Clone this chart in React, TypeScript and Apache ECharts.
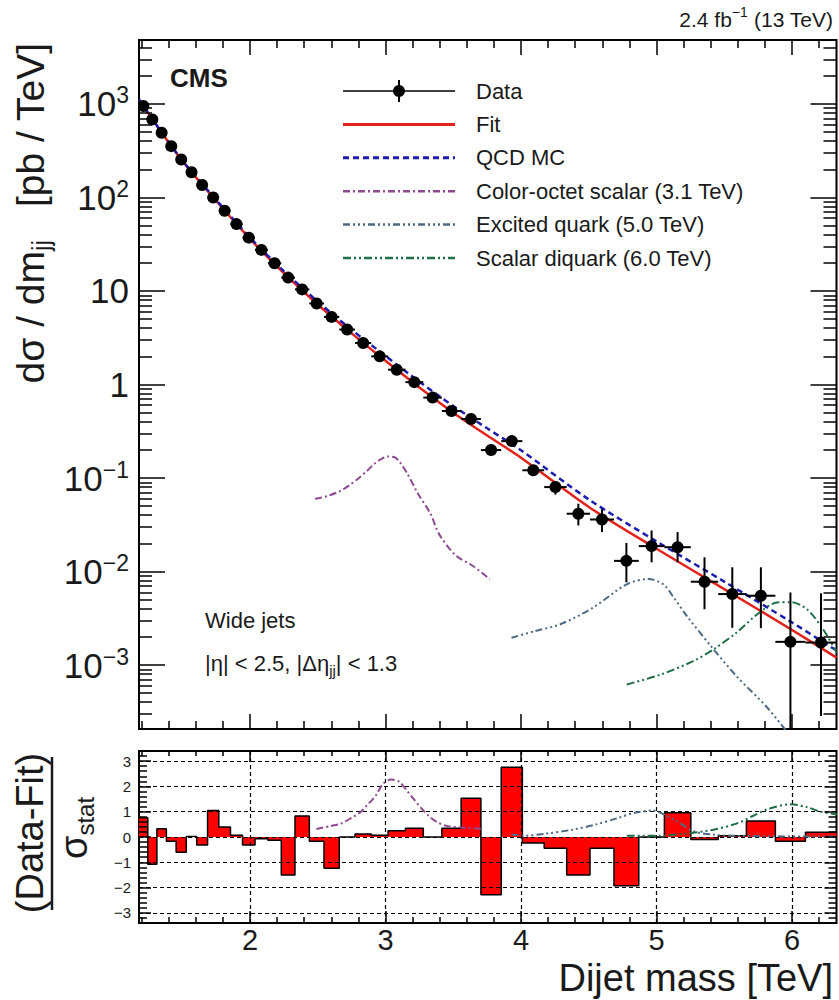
import React, { useEffect, useRef } from 'react';
import * as echarts from 'echarts';

// ---------- data ----------
// dijet mass bin edges [TeV]
const binEdges = [1.181, 1.246, 1.313, 1.383, 1.455, 1.530, 1.607, 1.687, 1.770, 1.856, 1.945, 2.037, 2.132, 2.231, 2.332, 2.438, 2.546, 2.659, 2.775, 2.895, 3.019, 3.147, 3.279, 3.416, 3.558, 3.704, 3.854, 4.010, 4.171, 4.337, 4.509, 4.686, 4.869, 5.058, 5.253, 5.455, 5.663, 5.877, 6.099, 6.328];

// measured dσ/dm_jj per bin [pb/TeV]
const crossSection = [951, 684, 493, 354, 255, 186, 136, 100, 72, 51.9, 37.2, 27.5, 19.8, 13.9, 10.4, 7.36, 5.28, 3.87, 2.78, 2.0, 1.44, 1.06, 0.724, 0.521, 0.428, 0.199, 0.248, 0.121, 0.080, 0.0415, 0.036, 0.013, 0.0187, 0.0182, 0.00778, 0.00574, 0.00551, 0.00177, 0.00174];

// statistical error band per bin (null where it is smaller than the marker)
const errLow = [null, null, null, null, null, null, null, null, null, null, null, null, null, null, null, null, null, null, null, null, null, null, null, null, null, 0.188, 0.235, 0.111, 0.0665, 0.0311, 0.0264, 0.00766, 0.01255, 0.01255, 0.00395, 0.0025, 0.00248, 0.00021, 0.000285];
const errHigh = [null, null, null, null, null, null, null, null, null, null, null, null, null, null, null, null, null, null, null, null, null, null, null, null, null, 0.211, 0.262, 0.131, 0.091, 0.0531, 0.0466, 0.0202, 0.0275, 0.0264, 0.0142, 0.0111, 0.0111, 0.00597, 0.00586];

// (Data-Fit)/sigma per bin
const pull = [0.76, -1.08, 0.33, -0.17, -0.6, 0.02, -0.32, 1.05, 0.4, 0.07, -0.32, -0.07, -0.13, -1.5, 0.83, -0.17, -1.24, 0.0, 0.12, 0.07, 0.25, 0.35, 0.0, 0.35, 1.53, -2.28, 2.76, -0.24, -0.44, -1.5, -0.44, -1.93, 0.0, 0.96, -0.1, 0.05, 0.63, -0.17, 0.19];

// fit function and QCD MC prediction
const fitMass = [1.181, 1.3, 1.5, 1.75, 2.0, 2.25, 2.5, 2.75, 3.0, 3.25, 3.5, 3.75, 4.0, 4.5, 5.0, 5.5, 6.0, 6.328];
const fitValue = [1120, 621, 247, 92.3, 36.1, 15.5, 7.16, 3.52, 1.79, 0.93, 0.50, 0.285, 0.165, 0.049, 0.0175, 0.00648, 0.00237, 0.0012];
const qcdValue = [1120, 625, 250, 94.5, 37.3, 16.3, 7.7, 3.85, 2.02, 1.07, 0.59, 0.34, 0.198, 0.059, 0.021, 0.0078, 0.00285, 0.00143];

// signal shapes, cross section panel
const octetMass = [2.48, 2.57, 2.66, 2.73, 2.80, 2.86, 2.92, 2.97, 3.02, 3.07, 3.11, 3.16, 3.24, 3.33, 3.40, 3.52, 3.64, 3.77];
const octetValue = [0.060, 0.064, 0.072, 0.083, 0.099, 0.118, 0.143, 0.160, 0.170, 0.166, 0.145, 0.112, 0.068, 0.042, 0.0245, 0.0148, 0.0116, 0.0083];
const qstarMass = [3.93, 4.10, 4.29, 4.53, 4.78, 4.94, 5.05, 5.13, 5.22, 5.40, 5.59, 5.81, 5.96];
const qstarValue = [0.00196, 0.0023, 0.00273, 0.0041, 0.0073, 0.0083, 0.0073, 0.0052, 0.0034, 0.0016, 0.00076, 0.00036, 0.000195];
const diquarkMass = [4.78, 5.03, 5.27, 5.42, 5.59, 5.76, 5.89, 5.99, 6.11, 6.23, 6.33];
const diquarkValue = [0.00062, 0.00079, 0.0011, 0.00147, 0.00222, 0.00365, 0.00467, 0.0047, 0.00395, 0.0024, 0.00135];

// signal shapes, pull panel
const octetPullMass = [2.49, 2.59, 2.67, 2.75, 2.81, 2.87, 2.93, 2.98, 3.04, 3.10, 3.15, 3.21, 3.26, 3.32, 3.38, 3.46, 3.60, 3.72];
const octetPull = [0.32, 0.43, 0.53, 0.76, 0.96, 1.29, 1.65, 2.09, 2.27, 2.19, 1.89, 1.49, 1.16, 0.83, 0.59, 0.43, 0.36, 0.32];
const qstarPullMass = [3.93, 4.02, 4.18, 4.38, 4.55, 4.72, 4.84, 4.97, 5.07, 5.17, 5.27, 5.42, 5.57, 5.80, 6.10, 6.33];
const qstarPull = [0.1, 0.05, 0.13, 0.29, 0.49, 0.76, 0.96, 1.05, 0.85, 0.56, 0.23, 0.09, 0.05, 0.03, 0.02, 0.02];
const diquarkPullMass = [4.78, 5.02, 5.21, 5.42, 5.59, 5.71, 5.83, 5.99, 6.11, 6.21, 6.33];
const diquarkPull = [0.05, 0.05, 0.13, 0.29, 0.53, 0.83, 1.12, 1.29, 1.18, 1.0, 0.9];

// axis ticks
const xMajorTicks = [2, 3, 4, 5, 6];
const decadeTicks = [-3, -2, -1, 0, 1, 2, 3];
const pullTicks = [-3, -2, -1, 0, 1, 2, 3];

// ---------- style ----------
const FONT = '"Liberation Sans", Arial, Helvetica, sans-serif';
const INK = '#1a1a1a';
const C_FIT = '#e3221c';
const C_QCD = '#1c1cb0';
const C_OCTET = '#8d4a90';
const C_QSTAR = '#4f6a84';
const C_DIQUARK = '#1f6e45';

const X_MIN = 1.181;
const X_MAX = 6.328;
const Y_MIN = Math.log10(2.07e-4);
const Y_MAX = Math.log10(4830);
const P_MIN = -3.4;
const P_MAX = 3.4;

const lg = (v: number) => Math.log10(v);

function buildOption() {
  const xMinorTicks: number[] = [];
  for (let i = 6; i <= 31; i++) if (i % 5 !== 0) xMinorTicks.push(i / 5);
  const yMinorTicks: number[] = [];
  for (let k = -4; k <= 3; k++) for (let m = 2; m <= 9; m++) {
    const v = Math.log10(m) + k;
    if (v > Y_MIN && v < Y_MAX) yMinorTicks.push(v);
  }
  const pullMinorTicks: number[] = [];
  for (let i = -17; i <= 17; i++) if (i % 5 !== 0) pullMinorTicks.push(i / 5);

  const tickLine = { color: '#000', width: 1.5 };
  const frameAxis = (gridIndex: number, position: string, min: number, max: number, ticks: number[], length: number, axisLabel?: any) => ({
    type: 'value', gridIndex, position, min, max,
    axisLine: { show: false, onZero: false },
    axisTick: { show: true, inside: true, length, customValues: ticks, lineStyle: tickLine },
    axisLabel: axisLabel || { show: false },
    splitLine: { show: false },
    z: 6,
  });

  const decadeLabel = (v: number) => {
    const k = Math.round(v);
    if (k === 0) return '1';
    if (k === 1) return '10';
    return '10{sup|' + (k < 0 ? '\u2212' + (-k) : String(k)) + '}';
  };

  const xAxis = [
    frameAxis(0, 'bottom', X_MIN, X_MAX, xMajorTicks, 15),
    frameAxis(0, 'bottom', X_MIN, X_MAX, xMinorTicks, 8),
    frameAxis(0, 'top', X_MIN, X_MAX, xMajorTicks, 15),
    frameAxis(0, 'top', X_MIN, X_MAX, xMinorTicks, 8),
    frameAxis(1, 'bottom', X_MIN, X_MAX, xMajorTicks, 12, {
      show: true, customValues: xMajorTicks, fontSize: 29, fontFamily: FONT, color: INK, margin: 2,
      formatter: (v: number) => String(v),
    }),
    frameAxis(1, 'bottom', X_MIN, X_MAX, xMinorTicks, 6),
    frameAxis(1, 'top', X_MIN, X_MAX, xMajorTicks, 11),
    frameAxis(1, 'top', X_MIN, X_MAX, xMinorTicks, 5),
  ];

  const yAxis = [
    frameAxis(0, 'left', Y_MIN, Y_MAX, decadeTicks, 26, {
      show: true, customValues: decadeTicks, fontSize: 35, fontFamily: FONT, color: INK, margin: 10, lineHeight: 40,
      formatter: decadeLabel,
      rich: { sup: { fontSize: 23, lineHeight: 23, verticalAlign: 'top', fontFamily: FONT, color: INK } },
    }),
    frameAxis(0, 'left', Y_MIN, Y_MAX, yMinorTicks, 13),
    frameAxis(0, 'right', Y_MIN, Y_MAX, decadeTicks, 26),
    frameAxis(0, 'right', Y_MIN, Y_MAX, yMinorTicks, 13),
    frameAxis(1, 'left', P_MIN, P_MAX, pullTicks, 12, {
      show: true, customValues: pullTicks, fontSize: 15, fontFamily: FONT, color: INK, margin: 8,
      formatter: (v: number) => (v < 0 ? '\u2212' + (-v) : String(v)),
    }),
    frameAxis(1, 'left', P_MIN, P_MAX, pullMinorTicks, 8),
    frameAxis(1, 'right', P_MIN, P_MAX, pullTicks, 12),
    frameAxis(1, 'right', P_MIN, P_MAX, pullMinorTicks, 8),
  ];

  const pair = (xs: number[], ys: number[], f = (v: number) => v) => xs.map((x, i) => [x, f(ys[i])]);

  const points = crossSection.map((v, i) => [
    (binEdges[i] + binEdges[i + 1]) / 2,
    lg(v),
    lg(errLow[i] ?? v),
    lg(errHigh[i] ?? v),
    binEdges[i],
    binEdges[i + 1],
  ]);

  const pullSteps = pull.map((v, i) => [binEdges[i], v]);
  pullSteps.push([binEdges[pull.length], pull[pull.length - 1]]);

  const curve = (name: string, data: number[][], color: string, dash: any, width: number, xi: number, z: number) => ({
    name, type: 'line', xAxisIndex: xi, yAxisIndex: xi, data, smooth: 0.3, symbol: 'none', z,
    lineStyle: { color, width, type: dash },
    silent: true,
  });

  const DASH_QCD = [6, 4];
  const DASH_OCTET = [7, 3, 2, 3];
  const DASH_QSTAR = [7, 3, 2, 3, 2, 3, 2, 3];
  const DASH_DIQUARK = [8, 3, 2, 3, 2, 3];

  const series: any[] = [
    curve('Fit', pair(fitMass, fitValue, lg), C_FIT, 'solid', 2.5, 0, 3),
    curve('QCD MC', pair(fitMass, qcdValue, lg), C_QCD, DASH_QCD, 2.5, 0, 4),
    curve('Color-octet scalar (3.1 TeV)', pair(octetMass, octetValue, lg), C_OCTET, DASH_OCTET, 2, 0, 4),
    curve('Excited quark (5.0 TeV)', pair(qstarMass, qstarValue, lg), C_QSTAR, DASH_QSTAR, 2, 0, 4),
    curve('Scalar diquark (6.0 TeV)', pair(diquarkMass, diquarkValue, lg), C_DIQUARK, DASH_DIQUARK, 2, 0, 4),
    {
      name: 'Data', type: 'custom', xAxisIndex: 0, yAxisIndex: 0, data: points, z: 10, clip: true,
      encode: { x: 0, y: 1 },
      renderItem: (_params: any, api: any) => {
        const x = api.value(0), y = api.value(1);
        const c = api.coord([x, y]);
        const lo = api.coord([x, api.value(2)]);
        const hi = api.coord([x, api.value(3)]);
        const l = api.coord([api.value(4), y]);
        const r = api.coord([api.value(5), y]);
        const s = { stroke: '#000', lineWidth: 2 };
        return {
          type: 'group',
          children: [
            { type: 'line', shape: { x1: l[0], y1: l[1], x2: r[0], y2: r[1] }, style: s },
            { type: 'line', shape: { x1: lo[0], y1: lo[1], x2: hi[0], y2: hi[1] }, style: s },
            { type: 'circle', shape: { cx: c[0], cy: c[1], r: 6 }, style: { fill: '#000' } },
          ],
        };
      },
    },
    {
      name: 'grid', type: 'line', xAxisIndex: 4, yAxisIndex: 4, data: [[X_MIN, 0]], symbol: 'none',
      lineStyle: { opacity: 0 }, silent: true, z: 1,
      markLine: {
        silent: true, symbol: 'none', label: { show: false },
        lineStyle: { color: '#000', type: [4, 3], width: 1.2 },
        data: [...pullTicks.map((v) => ({ yAxis: v })), ...xMajorTicks.map((v) => ({ xAxis: v }))],
      },
    },
    {
      name: 'pull', type: 'line', xAxisIndex: 4, yAxisIndex: 4, data: pullSteps, step: 'end', symbol: 'none', z: 2,
      lineStyle: { color: '#000', width: 1.5 },
      areaStyle: { color: '#ff0000', opacity: 1, origin: 'auto' },
      silent: true,
    },
    curve('octet pull', pair(octetPullMass, octetPull), C_OCTET, DASH_OCTET, 2, 4, 5),
    curve('qstar pull', pair(qstarPullMass, qstarPull), C_QSTAR, DASH_QSTAR, 2, 4, 5),
    curve('diquark pull', pair(diquarkPullMass, diquarkPull), C_DIQUARK, DASH_DIQUARK, 2, 4, 5),
  ];

  // legend block
  const LX0 = 343, LX1 = 455, LT = 476, LY0 = 91, LDY = 33.4, LFS = 22;
  const legendRows = [
    { text: 'Data' },
    { text: 'Fit', color: C_FIT, dash: null, w: 2.5 },
    { text: 'QCD MC', color: C_QCD, dash: DASH_QCD, w: 2.5 },
    { text: 'Color-octet scalar (3.1 TeV)', color: C_OCTET, dash: DASH_OCTET, w: 2 },
    { text: 'Excited quark (5.0 TeV)', color: C_QSTAR, dash: DASH_QSTAR, w: 2 },
    { text: 'Scalar diquark (6.0 TeV)', color: C_DIQUARK, dash: DASH_DIQUARK, w: 2 },
  ];
  const legend: any[] = [];
  legendRows.forEach((row: any, i) => {
    const y = LY0 + i * LDY;
    if (i === 0) {
      legend.push({ type: 'line', shape: { x1: LX0, y1: y, x2: LX1, y2: y }, style: { stroke: '#000', lineWidth: 1.5 } });
      legend.push({ type: 'line', shape: { x1: (LX0 + LX1) / 2, y1: y - 11, x2: (LX0 + LX1) / 2, y2: y + 11 }, style: { stroke: '#000', lineWidth: 2 } });
      legend.push({ type: 'circle', shape: { cx: (LX0 + LX1) / 2, cy: y, r: 6 }, style: { fill: '#000' } });
    } else {
      legend.push({ type: 'line', shape: { x1: LX0, y1: y, x2: LX1, y2: y }, style: { stroke: row.color, lineWidth: row.w + 0.5, lineDash: row.dash || undefined } });
    }
    legend.push({ type: 'text', x: LT, y, style: { text: row.text, fontSize: LFS, fontFamily: FONT, fill: INK, align: 'left', verticalAlign: 'middle' } });
  });

  const TITLE_FS = 38;
  const graphic = [
    ...legend,
    {
      type: 'text', x: 833, y: 19,
      style: {
        text: '2.4 fb{sup|\u22121} (13 TeV)', fontSize: 21, lineHeight: 28, fontFamily: FONT, fill: INK, align: 'right', verticalAlign: 'middle',
        rich: { sup: { fontSize: 14, lineHeight: 14, verticalAlign: 'top', fontFamily: FONT, fill: INK } },
      },
    },
    { type: 'text', x: 170, y: 78, style: { text: 'CMS', fontSize: 26, fontWeight: 'bold', fontFamily: FONT, fill: INK, align: 'left', verticalAlign: 'middle' } },
    { type: 'text', x: 205, y: 620, style: { text: 'Wide jets', fontSize: 22, fontFamily: FONT, fill: INK, align: 'left', verticalAlign: 'middle' } },
    {
      type: 'text', x: 205, y: 663,
      style: {
        text: '|\u03b7| < 2.5, |\u0394\u03b7{sub|jj}| < 1.3', fontSize: 22, lineHeight: 30, fontFamily: FONT, fill: INK, align: 'left', verticalAlign: 'middle',
        rich: { sub: { fontSize: 15, lineHeight: 15, verticalAlign: 'bottom', fontFamily: FONT, fill: INK } },
      },
    },
    {
      type: 'text', x: 30, y: 213, rotation: Math.PI / 2,
      style: {
        text: 'd\u03c3 / dm{sub|jj}   [pb / TeV]', fontSize: 39, lineHeight: 46, fontFamily: FONT, fill: INK, align: 'center', verticalAlign: 'middle',
        rich: { sub: { fontSize: 25, lineHeight: 25, verticalAlign: 'bottom', fontFamily: FONT, fill: INK } },
      },
    },
    { type: 'text', x: 30, y: 833, rotation: Math.PI / 2, style: { text: '(Data-Fit)', fontSize: TITLE_FS, fontFamily: FONT, fill: INK, align: 'center', verticalAlign: 'middle' } },
    { type: 'line', shape: { x1: 52, y1: 757, x2: 52, y2: 910 }, style: { stroke: INK, lineWidth: 2.5 } },
    {
      type: 'text', x: 74, y: 828, rotation: Math.PI / 2,
      style: {
        text: '{s|\u03c3}{sub|stat}', fontFamily: FONT, fill: INK, align: 'center', verticalAlign: 'middle',
        rich: {
          s: { fontSize: TITLE_FS, lineHeight: 46, fontFamily: FONT, fill: INK },
          sub: { fontSize: 24, lineHeight: 24, verticalAlign: 'bottom', fontFamily: FONT, fill: INK },
        },
      },
    },
    { type: 'text', x: 833, y: 978, style: { text: 'Dijet mass [TeV]', fontSize: TITLE_FS, fontFamily: FONT, fill: INK, align: 'right', verticalAlign: 'middle' } },
  ];

  return {
    animation: false,
    backgroundColor: '#fff',
    grid: [
      { left: 139, top: 40, width: 697.5, height: 689, show: true, borderColor: '#000', borderWidth: 2, backgroundColor: 'transparent', containLabel: false, outerBoundsMode: 'none' },
      { left: 139, top: 751, width: 697.5, height: 172, show: true, borderColor: '#000', borderWidth: 2, backgroundColor: 'transparent', containLabel: false, outerBoundsMode: 'none' },
    ],
    xAxis,
    yAxis,
    series,
    graphic: { elements: graphic },
  };
}

export default function App() {
  const ref = useRef<HTMLDivElement>(null);
  useEffect(() => {
    const chart = echarts.init(ref.current!, null, { renderer: 'svg' });
    chart.setOption(buildOption() as any);
    return () => chart.dispose();
  }, []);
  return (
    <div
      ref={ref}
      style={{ position: 'absolute', left: 0, top: 0, width: 839, height: 1000, background: '#fff' }}
    />
  );
}
